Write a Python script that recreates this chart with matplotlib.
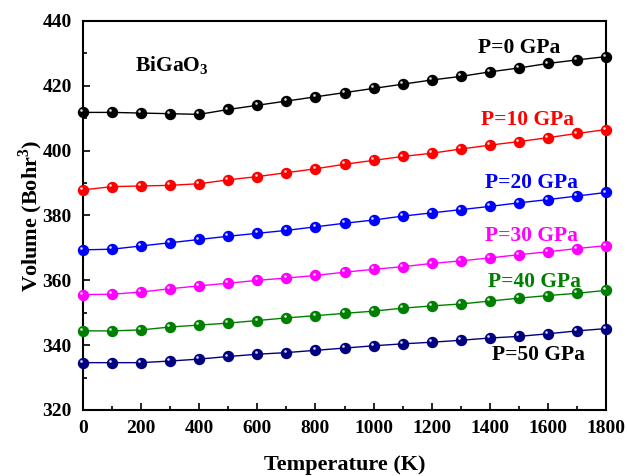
import matplotlib
matplotlib.use("Agg")
import matplotlib.pyplot as plt
import matplotlib.transforms as mtransforms
from matplotlib.ticker import MultipleLocator

plt.rcParams['font.family'] = ['Liberation Serif', 'DejaVu Serif']
plt.rcParams['font.weight'] = 'bold'
plt.rcParams['mathtext.fontset'] = 'custom'
plt.rcParams['mathtext.rm'] = 'Liberation Serif:bold'

# temperature grid (K)
temps = [0, 100, 200, 300, 400, 500, 600, 700, 800, 900,
         1000, 1100, 1200, 1300, 1400, 1500, 1600, 1700, 1800]

# cell volume (Bohr^3) for each pressure
v_0gpa = [411.8, 411.8, 411.6, 411.4, 411.2, 412.7, 414.0, 415.3, 416.6, 417.9,
          419.2, 420.5, 421.8, 422.9, 424.3, 425.5, 426.9, 428.0, 429.0]
v_10gpa = [387.9, 388.9, 389.1, 389.3, 389.8, 391.0, 392.0, 393.2, 394.4, 395.8,
           397.0, 398.2, 399.2, 400.5, 401.7, 402.8, 404.0, 405.3, 406.5]
v_20gpa = [369.4, 369.6, 370.6, 371.6, 372.6, 373.6, 374.5, 375.4, 376.5, 377.6,
           378.6, 379.8, 380.8, 381.8, 382.8, 383.9, 384.9, 386.0, 387.1]
v_30gpa = [355.6, 355.7, 356.4, 357.4, 358.3, 359.1, 360.0, 360.7, 361.5, 362.5,
           363.4, 364.2, 365.2, 366.0, 366.9, 367.9, 368.8, 369.8, 370.7]
v_40gpa = [344.4, 344.4, 344.7, 345.6, 346.2, 346.8, 347.6, 348.4, 349.1, 349.8,
           350.5, 351.4, 352.1, 352.7, 353.6, 354.5, 355.3, 356.0, 356.9]
v_50gpa = [334.6, 334.6, 334.6, 335.1, 335.7, 336.5, 337.2, 337.7, 338.4, 339.1,
           339.8, 340.4, 340.9, 341.5, 342.2, 342.7, 343.5, 344.4, 345.1]

series = [
    (v_0gpa, 'black', 'P=0 GPa', 'black', (1500, 431.7)),
    (v_10gpa, 'red', 'P=10 GPa', 'red', (1531, 409.5)),
    (v_20gpa, 'blue', 'P=20 GPa', 'blue', (1542, 390.0)),
    (v_30gpa, 'magenta', 'P=30 GPa', 'magenta', (1545, 373.6)),
    (v_40gpa, 'green', 'P=40 GPa', 'green', (1555, 359.5)),
    (v_50gpa, 'navy', 'P=50 GPa', 'black', (1569, 337.0)),
]

fig = plt.figure(figsize=(6.27, 4.76), dpi=100)
ax = fig.add_axes([0.1324, 0.1387, 0.8341, 0.8172])

# shifted transform for the little highlight on each ball
shine = mtransforms.offset_copy(ax.transData, fig=fig, x=-1.3, y=1.4, units='points')

for vals, col, lab, tcol, (tx, ty) in series:
    ax.plot(temps, vals, '-', color=col, lw=1.0, zorder=2)
    ax.plot(temps, vals, 'o', color=col, ms=7.2, mec=col, zorder=3, clip_on=False)
    ax.plot(temps, vals, 'o', color='white', ms=1.9, mew=0, alpha=0.85,
            transform=shine, zorder=4, clip_on=False)
    ax.text(tx, ty, lab, color=tcol, fontsize=15.5, fontweight='bold',
            ha='center', va='center')

ax.text(306, 426.1, r'BiGaO$_3$', fontsize=15.5, fontweight='bold', ha='center', va='center')

ax.set_xlim(0, 1800)
ax.set_ylim(320, 440)
ax.xaxis.set_major_locator(MultipleLocator(200))
ax.xaxis.set_minor_locator(MultipleLocator(100))
ax.yaxis.set_major_locator(MultipleLocator(20))
ax.yaxis.set_minor_locator(MultipleLocator(10))
ax.tick_params(which='both', direction='in', top=False, right=False, labelsize=14, width=1.2)
ax.tick_params(which='major', length=5)
ax.tick_params(which='minor', length=3)
ax.tick_params(axis='x', pad=7)
ax.tick_params(axis='y', pad=8)
for s in ax.spines.values():
    s.set_linewidth(1.5)

ax.set_xlabel('Temperature (K)', fontsize=16, fontweight='bold', labelpad=13)
ax.set_ylabel(r'Volume (Bohr$^3$)', fontsize=16, fontweight='bold', labelpad=-2)

fig.savefig('out.png', dpi=100)
